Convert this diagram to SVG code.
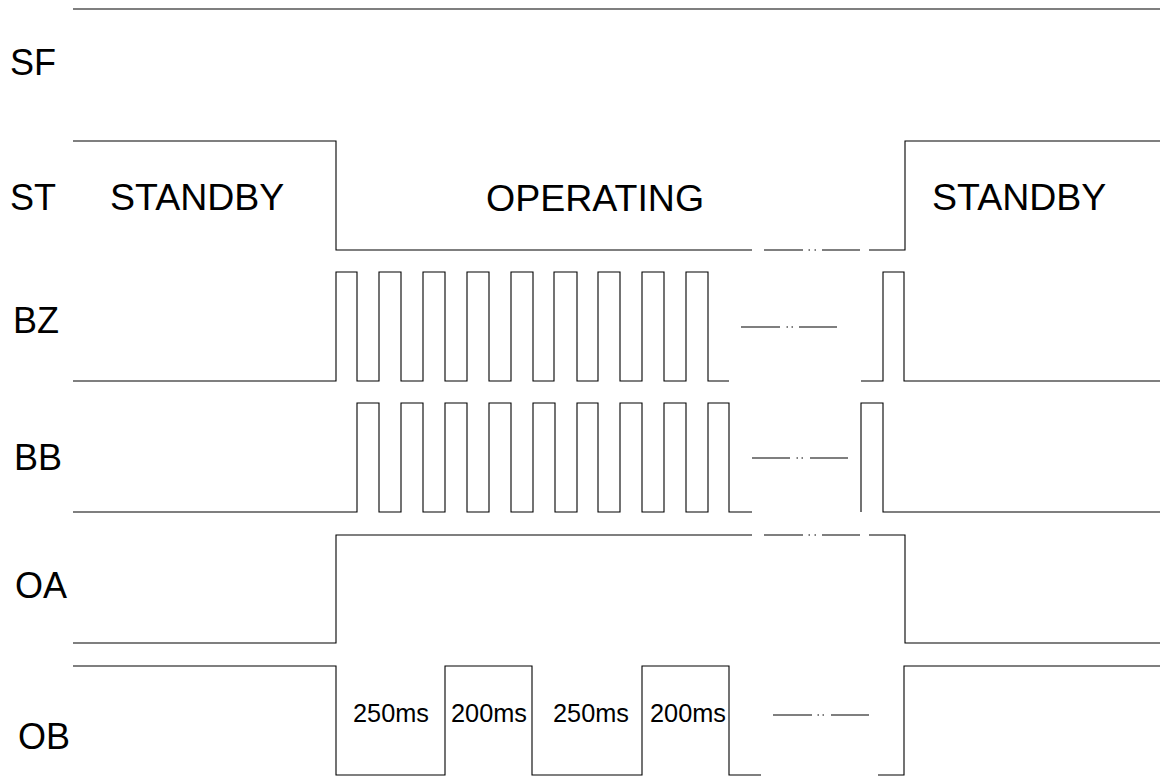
<svg xmlns="http://www.w3.org/2000/svg" width="1160" height="776" viewBox="0 0 1160 776">
<style>
.w{fill:none;stroke:#000;stroke-width:1.1}
.lbl{font-family:"Liberation Sans",Arial,sans-serif;font-size:36px;fill:#000}
.big{font-family:"Liberation Sans",Arial,sans-serif;font-size:37.5px;fill:#000}
.ms{font-family:"Liberation Sans",Arial,sans-serif;font-size:25.3px;fill:#000}
</style>
<rect width="1160" height="776" fill="#fff"/>
<g id="labels">
<text class="lbl" x="10" y="75">SF</text>
<text class="lbl" x="10" y="210">ST</text>
<text class="lbl" x="13" y="333">BZ</text>
<text class="lbl" x="14" y="470">BB</text>
<text class="lbl" x="15" y="598">OA</text>
<text class="lbl" x="18" y="749">OB</text>
</g>
<g id="SF">
<path class="w" d="M73,9 H1160"/>
</g>
<g id="ST">
<path class="w" d="M73,141 H336 V250 H752 M764,250 H803 M808.5,250 h1.5 M814.5,250 h1.5 M822,250 H860 M869,250 H905 V141 H1160"/>
<text class="big" x="110" y="210">STANDBY</text>
<text class="big" x="486" y="211">OPERATING</text>
<text class="big" x="932" y="210">STANDBY</text>
</g>
<g id="BZ">
<path class="w" d="M73,381 H336 V272 H357 V381 H379 V272 H401 V381 H423 V272 H445 V381 H467 V272 H489 V381 H511 V272 H533 V381 H554 V272 H577 V381 H598 V272 H620 V381 H642 V272 H664 V381 H686 V272 H708 V381 H729 M741,327 H780 M786.5,327 h1.5 M791.5,327 h1.5 M799,327 H837 M861,381 H883 V272 H904 V381 H1160"/>
</g>
<g id="BB">
<path class="w" d="M73,512 H357 V403 H379 V512 H401 V403 H423 V512 H445 V403 H467 V512 H489 V403 H511 V512 H533 V403 H555 V512 H577 V403 H598 V512 H620 V403 H642 V512 H664 V403 H686 V512 H708 V403 H729 V512 H752 M752,458 H790 M796.5,458 h1.5 M801.5,458 h1.5 M810,458 H848 M861,512 V403 H883 V512 H1160"/>
</g>
<g id="OA">
<path class="w" d="M73,643 H336 V535 H752 M764,535 H803 M808.5,535 h1.5 M814.5,535 h1.5 M822,535 H860 M869,535 H905 V643 H1160"/>
</g>
<g id="OB">
<path class="w" d="M73,666 H336 V775 H445 V666 H532 V775 H642 V666 H729 V775 H761 M773,715 H812 M817.5,715 h1.5 M822.5,715 h1.5 M831,715 H869 M878,775 H904 V666 H1160"/>
<text class="ms" x="353" y="722">250ms</text>
<text class="ms" x="451" y="722">200ms</text>
<text class="ms" x="553" y="722">250ms</text>
<text class="ms" x="650" y="722">200ms</text>
</g>
</svg>
